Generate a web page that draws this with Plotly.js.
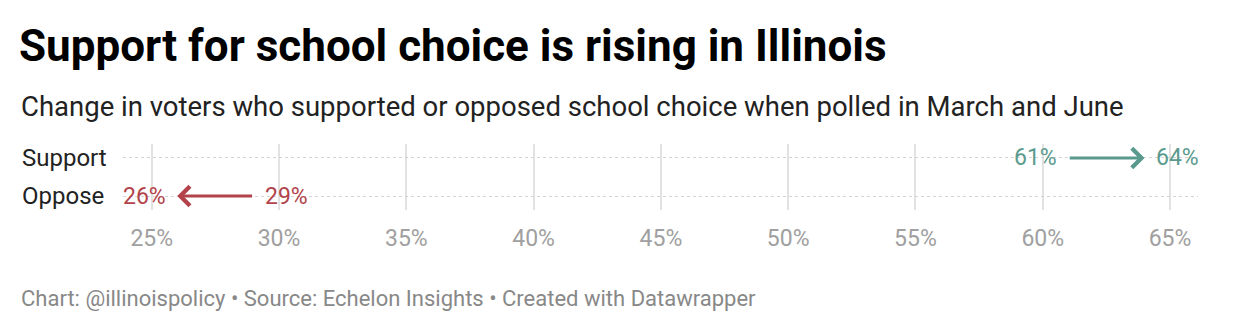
<!DOCTYPE html>
<html>
<head>
<meta charset="utf-8">
<script src="https://cdn.plot.ly/plotly-3.0.1.min.js"></script>
<style>
html,body{margin:0;padding:0;background:#fff;}
#chart{width:1240px;height:332px;}
</style>
</head>
<body>
<div id="chart"></div>
<script>
// Data
const categories = ['Support', 'Oppose'];
const march = [61, 29];
const june = [64, 26];
const seriesColors = ['#5a9a8e', '#b3434a'];
const tickValues = [25, 30, 35, 40, 45, 50, 55, 60, 65];
const tickLabels = ['25%', '30%', '35%', '40%', '45%', '50%', '55%', '60%', '65%'];

const titleText = 'Support for school choice is rising in Illinois';
const subtitleText = 'Change in voters who supported or opposed school choice when polled in March and June';
const footerText = 'Chart: @illinoispolicy • Source: Echelon Insights • Created with Datawrapper';

const W = 1240, H = 332;
const M = {l: 123, r: 42, t: 144, b: 122};
const plotW = W - M.l - M.r, plotH = H - M.t - M.b;
const px2paperX = px => (px - M.l) / plotW;
const px2paperY = py => (H - M.b - py) / plotH;

const font = 'Roboto, "Noto Sans", Arial, sans-serif';

const annotations = [];

// arrows and value labels
categories.forEach((c, i) => {
  const col = seriesColors[i];
  const up = june[i] > march[i];
  annotations.push({
    x: june[i], y: c, xref: 'x', yref: 'y',
    ax: march[i], ay: c, axref: 'x', ayref: 'y',
    text: '', showarrow: true,
    arrowhead: 4, arrowsize: 1.25, arrowwidth: 3, arrowcolor: col,
    standoff: 0, startstandoff: 0
  });
  annotations.push({
    x: march[i], y: c, xref: 'x', yref: 'y',
    text: march[i] + '%', showarrow: false,
    xanchor: up ? 'right' : 'left', xshift: up ? -9 : 9,
    font: {family: font, size: 23, color: col}
  });
  annotations.push({
    x: june[i], y: c, xref: 'x', yref: 'y',
    text: june[i] + '%', showarrow: false,
    xanchor: up ? 'left' : 'right', xshift: up ? 9 : -9,
    font: {family: font, size: 23, color: col}
  });
  // row labels
  annotations.push({
    x: px2paperX(20), y: c, xref: 'paper', yref: 'y',
    text: c, showarrow: false, xanchor: 'left',
    font: {family: font, size: 24, color: '#222'}
  });
});

// subtitle
annotations.push({
  x: px2paperX(19), y: px2paperY(106), xref: 'paper', yref: 'paper',
  text: subtitleText, showarrow: false, xanchor: 'left', yanchor: 'middle',
  font: {family: font, size: 27.5, color: '#222'}
});
// footer
annotations.push({
  x: px2paperX(19), y: px2paperY(298), xref: 'paper', yref: 'paper',
  text: footerText, showarrow: false, xanchor: 'left', yanchor: 'middle',
  font: {family: font, size: 22, color: '#888'}
});

const layout = {
  width: W, height: H,
  margin: M,
  paper_bgcolor: '#fff', plot_bgcolor: '#fff',
  showlegend: false,
  title: {
    text: '<b>' + titleText + '</b>',
    x: 19 / W, xref: 'container', xanchor: 'left',
    y: 1 - 46 / H, yref: 'container', yanchor: 'middle',
    font: {family: font, size: 44, color: '#000'}
  },
  xaxis: {
    range: [23.87, 66.1],
    tickvals: tickValues, ticktext: tickLabels,
    showgrid: true, gridcolor: '#e2e2e2', gridwidth: 2,
    zeroline: false, showline: false, ticks: '',
    ticklabelstandoff: 12,
    tickfont: {family: font, size: 23, color: '#a0a0a0'},
    fixedrange: true
  },
  yaxis: {
    type: 'category', categoryarray: categories, categoryorder: 'array',
    range: [1.368, -0.368],
    showgrid: true, gridcolor: '#d4d4d4', gridwidth: 1, griddash: 'dot',
    zeroline: false, showline: false, ticks: '', showticklabels: false,
    fixedrange: true
  },
  annotations: annotations
};

// invisible trace to establish axes
const traces = [{
  x: march.concat(june), y: categories.concat(categories),
  type: 'scatter', mode: 'markers', marker: {opacity: 0},
  hoverinfo: 'skip'
}];

Plotly.newPlot('chart', traces, layout, {staticPlot: true, displayModeBar: false});
</script>
</body>
</html>
